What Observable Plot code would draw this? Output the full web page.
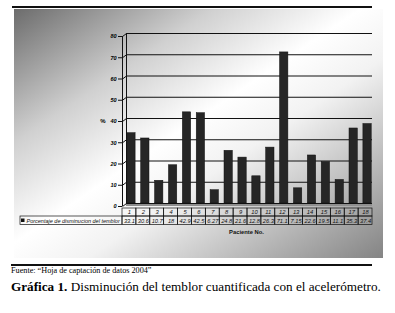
<!DOCTYPE html>
<html>
<head>
<meta charset="utf-8">
<script src="https://cdn.jsdelivr.net/npm/d3@7"></script>
<script src="https://cdn.jsdelivr.net/npm/@observablehq/plot@0.6"></script>
<style>
  html, body { margin: 0; padding: 0; background: #fff; }
  #wrap { position: relative; width: 395px; height: 313px; overflow: hidden; }
  #panel { position: absolute; left: 14px; top: 9px; width: 369px; height: 249px;
    background: linear-gradient(to bottom right, #6c6c6c 0%, #d0d0d0 27%, #ffffff 47%, #f2f2f2 60%, #848484 100%); }
  #topline { position: absolute; left: 12px; top: 6px; width: 360px; height: 2px; background: #111; }
  #chart { position: absolute; left: 0; top: 0; }
  #botline { position: absolute; left: 11px; top: 264px; width: 361px; height: 2px; background: #111; }
  #source { position: absolute; left: 11px; top: 266px; font-family: "Liberation Serif", serif; font-size: 8.2px; line-height: 9px; white-space: nowrap; }
  #caption { position: absolute; left: 11px; top: 279px; font-family: "Liberation Serif", serif; font-size: 13.2px; line-height: 15px; white-space: nowrap; }
</style>
</head>
<body>
<div id="wrap">
  <div id="panel"></div>
  <div id="topline"></div>
  <div id="chart"></div>
  <div id="botline"></div>
  <div id="source">Fuente: “Hoja de captación de datos 2004”</div>
  <div id="caption"><b>Gráfica 1.</b> Disminución del temblor cuantificada con el acelerómetro.</div>
</div>
<script>
// ---- data ----
const patients = [1, 2, 3, 4, 5, 6, 7, 8, 9, 10, 11, 12, 13, 14, 15, 16, 17, 18];
const valueLabels = ["33.1", "30.6", "10.7", "18", "42.9", "42.5", "6.27", "24.8", "21.6", "12.8", "26.3", "71.1", "7.15", "22.6", "19.5", "11.1", "35.3", "37.4"];
const values = [33.1, 30.6, 10.7, 18, 42.9, 42.5, 6.27, 24.8, 21.6, 12.8, 26.3, 71.1, 7.15, 22.6, 19.5, 11.1, 35.3, 37.4];
const yTicks = [0, 10, 20, 30, 40, 50, 60, 70, 80];
const seriesName = "Porcentaje de disminucion del temblor";
const xTitle = "Paciente No.";
const yTitle = "%";

// ---- layout ----
const W = 395, H = 258, ML = 122, MR = 23, MT = 36, MB = 52;
const X0 = 0.5, X1 = 18.5;
const step = (W - ML - MR) / (X1 - X0);
const ky = (H - MT - MB) / 80;
const yAt = px => (H - MB - px) / ky;     // pixel row -> y value
const xAt = px => X0 + (px - ML) / step;  // pixel column -> x value
const DX = 4, DY = -3;                    // depth offset of the back wall

const rows = patients.map((p, i) => ({p, v: values[i], label: valueLabels[i]}));
const r1a = yAt(208), r1b = yAt(216), r2b = yAt(224.5);

const chart = Plot.plot({
  width: W, height: H,
  marginLeft: ML, marginRight: MR, marginTop: MT, marginBottom: MB,
  x: {type: "linear", domain: [X0, X1], axis: null},
  y: {type: "linear", domain: [0, 80], axis: null},
  style: {fontFamily: "Liberation Sans, Arial, sans-serif", fontSize: "5.5px", background: "transparent", overflow: "visible"},
  marks: [
    // floor
    Plot.rect([0], {x1: X0 + DX / step, x2: X1, y1: 0, y2: 0, insetTop: DY, fill: "#8e8e8e"}),
    // back-wall gridlines
    Plot.ruleY(yTicks, {dx: DX, dy: DY, insetRight: DX, stroke: "#111", strokeWidth: 1.1}),
    // back wall left edge
    Plot.ruleX([X0], {y1: 0, y2: 80, dx: DX, dy: DY, stroke: "#111", strokeWidth: 1}),
    // front axis line
    Plot.ruleX([X0], {y1: 0, y2: 80, stroke: "#111", strokeWidth: 1}),
    // depth connectors at each tick
    Plot.link(yTicks, {x1: X0, x2: X0 + DX / step, y1: d => d, y2: d => d - DY / ky, stroke: "#111", strokeWidth: 1}),
    // y axis
    Plot.axisY(yTicks, {tickSize: 4, tickPadding: 2, fontWeight: "bold", fontStyle: "italic", fontSize: 5.5, label: null, stroke: "#111"}),
    Plot.text([yTitle], {x: X0, y: 40, dx: -17, textAnchor: "end", fontWeight: "bold", fontSize: 6}),
    // bars
    Plot.rect(rows, {x1: d => d.p - 0.3, x2: d => d.p + 0.3, y1: 0, y2: "v", dx: 2, dy: DY, fill: "#262626", stroke: "#111", strokeWidth: 0.5}),
    // data table cells
    Plot.rect(rows, {x1: d => d.p - 0.5, x2: d => d.p + 0.5, y1: r1a, y2: r1b, fill: "none", stroke: "#111", strokeWidth: 0.7}),
    Plot.rect(rows, {x1: d => d.p - 0.5, x2: d => d.p + 0.5, y1: r1b, y2: r2b, fill: "none", stroke: "#111", strokeWidth: 0.7}),
    Plot.rect([seriesName], {x1: xAt(20), x2: X0, y1: r1b, y2: r2b, fill: "none", stroke: "#111", strokeWidth: 0.7}),
    Plot.rect([seriesName], {x1: xAt(21), x2: xAt(24.5), y1: yAt(218.5), y2: yAt(222), fill: "#111"}),
    Plot.text([seriesName], {x: xAt(26), y: (r1b + r2b) / 2, textAnchor: "start", fontStyle: "italic", fontSize: 5.5, fill: "#111"}),
    Plot.text(rows, {x: "p", y: (r1a + r1b) / 2, text: d => String(d.p), fontStyle: "italic", fontSize: 5.8, fill: "#111"}),
    Plot.text(rows, {x: "p", y: (r1b + r2b) / 2, text: "label", fontStyle: "italic", fontSize: 5.7, fill: "#111"}),
    Plot.text([xTitle], {x: xAt(246), y: yAt(232), fontWeight: "bold", fontSize: 5.8, fill: "#111"})
  ]
});
document.getElementById("chart").appendChild(chart);
</script>
</body>
</html>
